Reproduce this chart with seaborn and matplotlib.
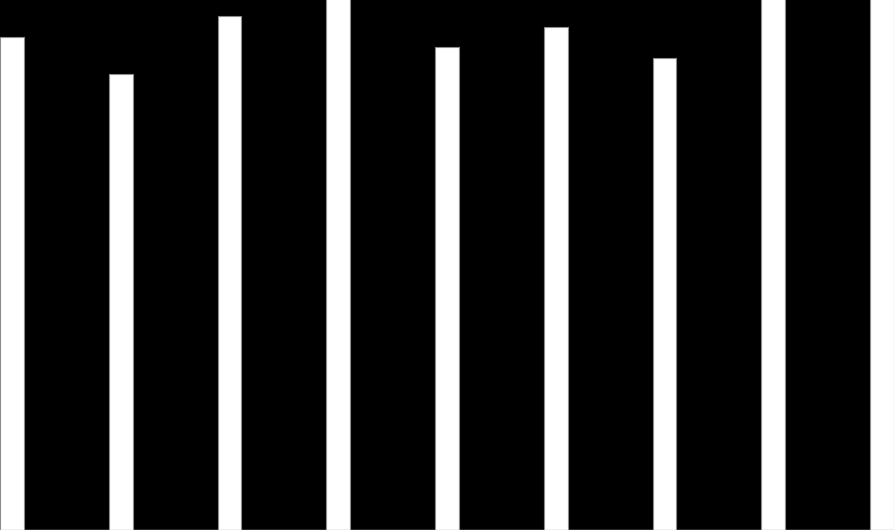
import pandas as pd
import numpy as np
import matplotlib
matplotlib.use('Agg')
import matplotlib.pyplot as plt
import seaborn as sns

# Bar values (axis runs 0-100, three bars run past the top)
categories = ['A', 'B', 'C', 'D', 'E', 'F', 'G', 'H', 'I']
values = [93.0, 86.0, 97.0, 104.0, 91.1, 95.0, 89.0, 106.0, 103.0]

df = pd.DataFrame({'category': categories, 'value': values})

sns.set_style('white')

fig = plt.figure(figsize=(8.94, 5.30), dpi=100)
fig.patch.set_facecolor('black')
ax = fig.add_axes([0, 0, 1, 1])
ax.set_facecolor('black')

sns.barplot(data=df, x='category', y='value', color='white', width=0.22,
            edgecolor='0.55', linewidth=0.8, saturation=1, ax=ax)

ax.set_xlim(-0.11, len(categories) - 1 + 0.11)
ax.set_ylim(0, 100)
ax.set_xticks([])
ax.set_yticks([])
ax.set_xlabel('')
ax.set_ylabel('')
for side in ['top', 'right', 'left']:
    ax.spines[side].set_visible(False)
ax.spines['bottom'].set_color('0.8')
ax.spines['bottom'].set_linewidth(1)

fig.savefig('out.png', dpi=100, facecolor='black')
